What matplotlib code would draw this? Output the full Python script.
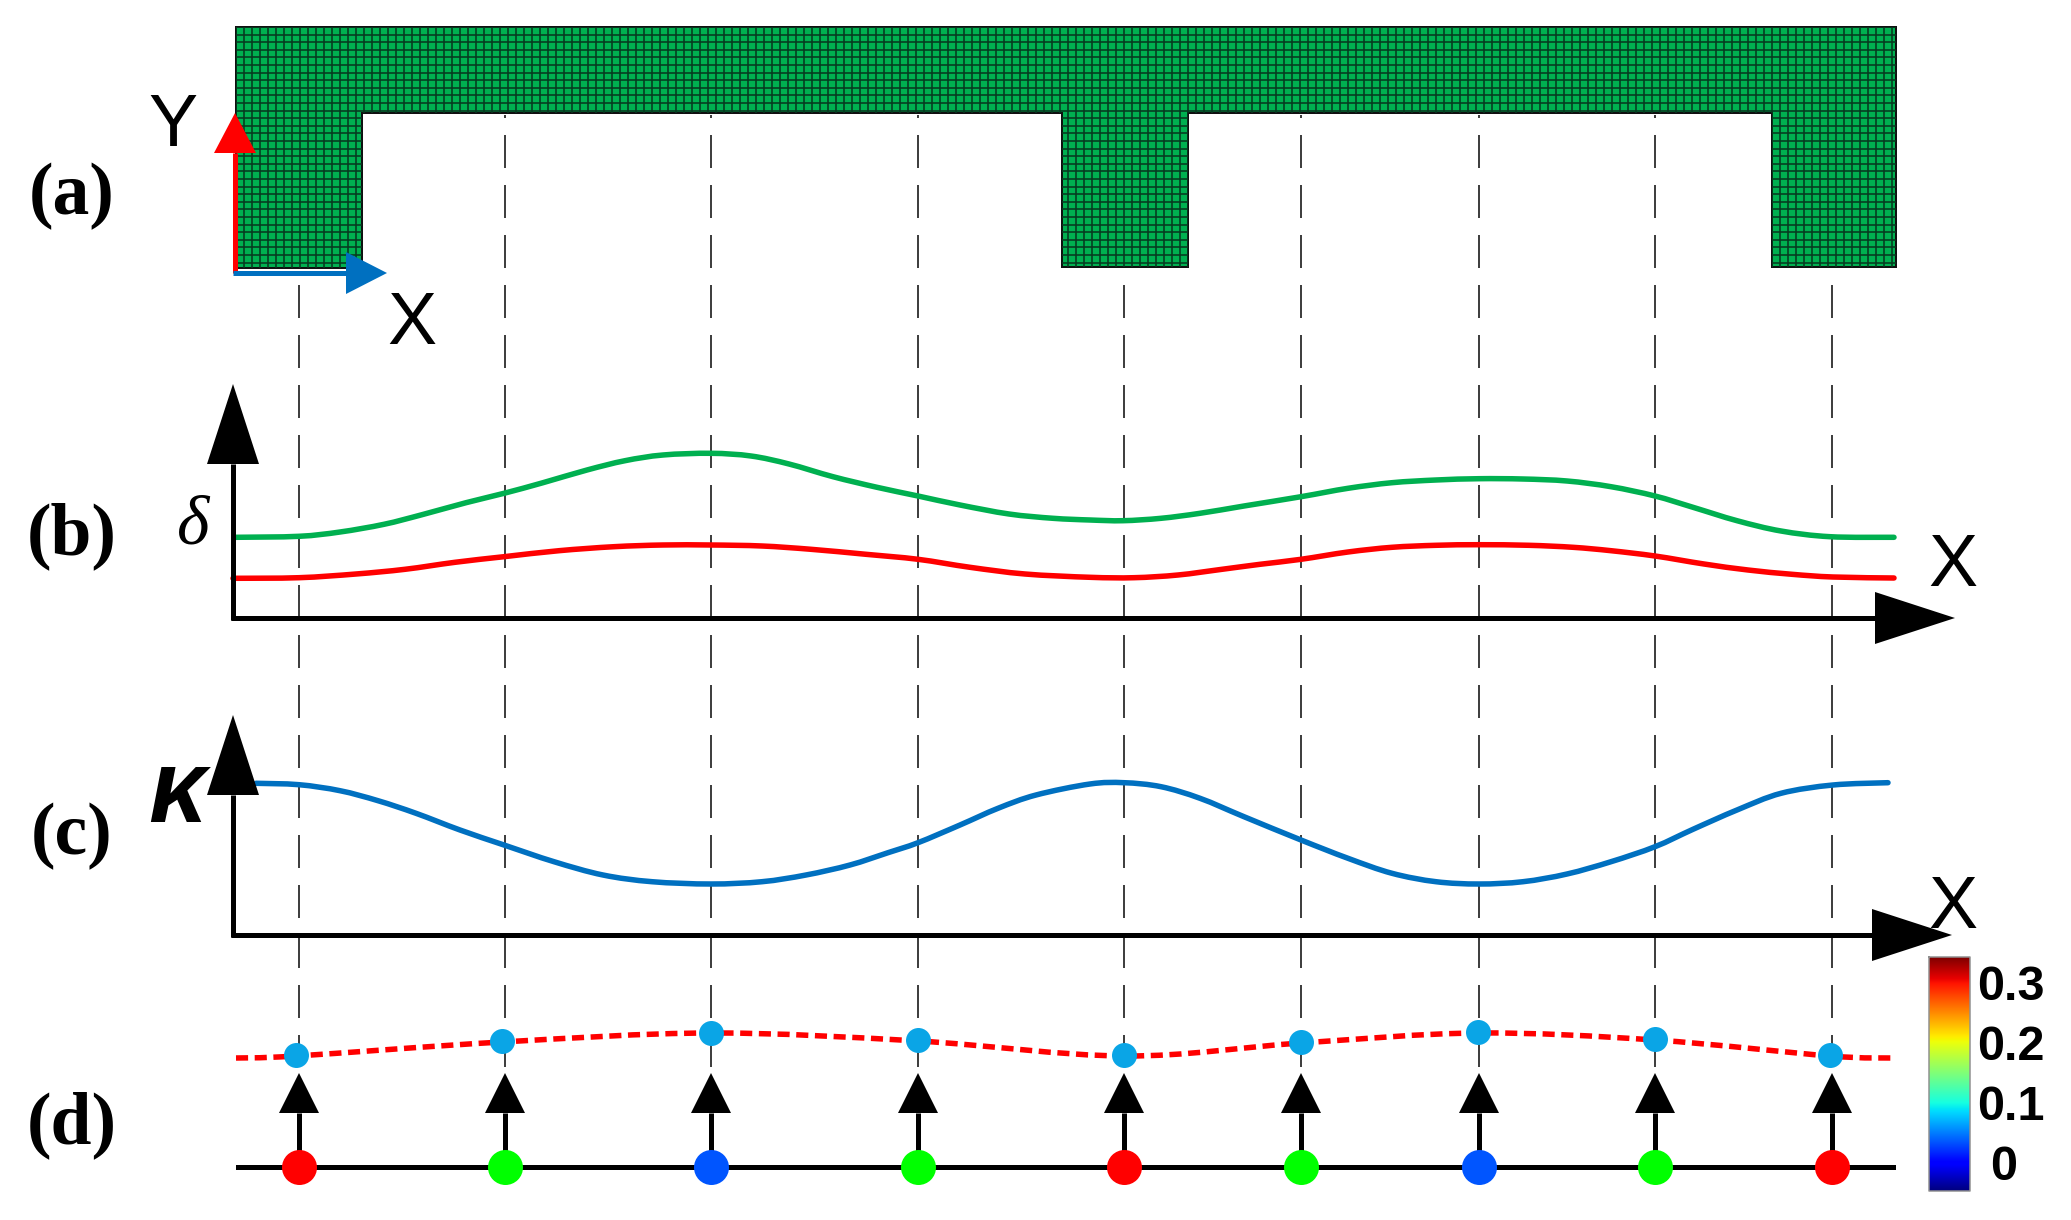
import numpy as np
import matplotlib
matplotlib.use('Agg')
import matplotlib.pyplot as plt
from matplotlib.patches import Polygon, PathPatch
from matplotlib.path import Path

W, H = 2071, 1220
PX = 0.72  # one pixel in points at dpi 100

# (a) mesh outline
mesh_x = [236, 1896, 1896, 1772, 1772, 1188, 1188, 1062, 1062, 362, 362, 236]
mesh_y = [27, 27, 267, 267, 113, 113, 267, 267, 113, 113, 268, 268]

# dashed guides and stations along the beam
station_x = [299, 505, 711, 918, 1124, 1301, 1479, 1655, 1832]
dash_top = [285, 115, 115, 115, 272, 115, 115, 115, 272]
dash_bottom = [1067, 1067, 1067, 1067, 1067, 1067, 1067, 1067, 1067]

# (b) deflection curves
green_x = [236, 299, 340, 384, 422, 466, 504, 543, 587, 625, 663, 711, 751, 789, 833, 877, 918,
           960, 1009, 1053, 1090, 1123, 1161, 1200, 1244, 1301, 1348, 1392, 1436, 1479, 1523,
           1567, 1611, 1655, 1693, 1737, 1781, 1830, 1894]
green_y = [537.3, 536.3, 532, 524.3, 514.7, 502.7, 493.3, 482.7, 470, 460.7, 455, 453.3, 456,
           464, 476.7, 487.3, 496, 505, 514, 518.3, 520, 520.7, 518.3, 513.3, 506, 496.7, 488.3,
           482.7, 480, 478.7, 479, 481, 486.7, 496, 507.3, 520.7, 531, 536.7, 537.3]
red_x = [233, 299, 356, 405, 455, 504, 559, 614, 663, 711, 762, 811, 866, 918, 970, 1025, 1090,
         1134, 1178, 1222, 1260, 1301, 1348, 1392, 1436, 1479, 1529, 1573, 1611, 1655, 1704,
         1748, 1792, 1833, 1894]
red_y = [578.3, 577.7, 574, 569.3, 562.3, 556.7, 550.7, 546.7, 545, 545, 546, 549.3, 554.3,
         559.3, 567.3, 574, 577.3, 577.7, 575, 569.3, 564.3, 559.3, 552, 547.3, 545.3, 544.7,
         545.3, 547.3, 550.7, 556, 564, 570, 574.3, 577, 578]

# (c) curvature curve
kappa_x = [256, 299, 340, 378, 416, 460, 504, 554, 603, 652, 711, 762, 806, 850, 888, 918, 960,
           998, 1036, 1090, 1124, 1161, 1200, 1244, 1301, 1348, 1392, 1436, 1479, 1523, 1567,
           1611, 1655, 1693, 1737, 1781, 1833, 1888]
kappa_y = [783.3, 784.7, 790.7, 800.7, 813.3, 830, 845, 861.7, 875, 881.7, 884, 881.7, 875, 865,
           852.7, 842.7, 825, 808.3, 795, 784, 782.7, 786.7, 798.3, 816.7, 840, 858.3, 873.3,
           881.7, 884, 881.7, 874, 861.7, 846.7, 829.3, 810, 793.3, 785, 782.7]

# (d) reconstructed shape and strain dots
dotted_x = [236, 296, 502, 711, 918, 1124, 1301, 1478, 1655, 1830, 1892]
dotted_y = [1058, 1056, 1042, 1033, 1041, 1056, 1043, 1033, 1040, 1056, 1058]
node_x = [296, 502, 711, 918, 1124, 1301, 1478, 1655, 1830]
node_y = [1055, 1041, 1033, 1040, 1055, 1042, 1032, 1039, 1055]
node_color = '#0aa5e6'
base_colors = ['#ff0000', '#00ff00', '#0055ff', '#00ff00', '#ff0000', '#00ff00', '#0055ff',
               '#00ff00', '#ff0000']
cbar_ticks = ['0.3', '0.2', '0.1', '0']
cbar_tick_y = [987, 1048, 1108, 1168]

fig = plt.figure(figsize=(W / 100, H / 100), dpi=100)
ax = fig.add_axes([0, 0, 1, 1])


def arrow(x0, y0, x1, y1, color='black', half=26, length=80, lw=5):
    # straight shaft with a filled triangle head, sizes in pixels
    d = np.array([x1 - x0, y1 - y0], dtype=float)
    d /= np.hypot(*d)
    n = np.array([-d[1], d[0]])
    tip = np.array([x1, y1], dtype=float)
    base = tip - d * length
    ax.plot([x0, base[0]], [y0, base[1]], color=color, lw=lw * PX, solid_capstyle='butt', zorder=6)
    ax.add_patch(Polygon([tip, base + n * half, base - n * half], closed=True, fc=color, ec='none', zorder=6))


def smooth(xs, ys, **kw):
    # bezier segments through the read points, so the line has no corners
    p = np.column_stack([xs, ys]).astype(float)
    verts, codes = [p[0]], [Path.MOVETO]
    for i in range(len(p) - 1):
        a = p[max(i - 1, 0)]
        b = p[min(i + 2, len(p) - 1)]
        verts += [p[i] + (p[i + 1] - a) / 6, p[i + 1] - (b - p[i]) / 6, p[i + 1]]
        codes += [Path.CURVE4] * 3
    ax.add_patch(PathPatch(Path(verts, codes), fc='none', **kw))


# (a) meshed beam
outline = Polygon(np.column_stack([mesh_x, mesh_y]), closed=True, fc='#00b050', ec='#101010',
                  lw=2 * PX, zorder=1)
ax.add_patch(outline)
for gx in np.arange(236, 1899, 8.0):
    ln, = ax.plot([gx, gx], [27, 268], color='#073a20', lw=1.6 * PX, zorder=2)
    ln.set_clip_path(outline)
for gy in np.arange(27, 268, 7.6):
    ln, = ax.plot([236, 1899], [gy, gy], color='#073a20', lw=1.6 * PX, zorder=2)
    ln.set_clip_path(outline)
arrow(235, 273, 235, 113, color='#ff0000', half=21, length=40)
arrow(233, 273, 387, 273, color='#0070c0', half=21, length=41)

# dashed guides, all on the same 50 px rhythm
for x, y0, y1 in zip(station_x, dash_top, dash_bottom):
    phase = ((y0 - 135) % 50) / 1.7
    ax.plot([x, x], [y0, y1], color='#202020', lw=1.7 * PX,
            linestyle=(phase, (33 / 1.7, 17 / 1.7)), dash_capstyle='butt', zorder=3)

# (b)
arrow(233, 620, 233, 384)
arrow(230.5, 618, 1955, 618)
smooth(green_x, green_y, ec='#00b050', lw=5.5 * PX, zorder=4, capstyle='round')
smooth(red_x, red_y, ec='#ff0000', lw=5.5 * PX, zorder=4, capstyle='round')

# (c)
smooth(kappa_x, kappa_y, ec='#0070c0', lw=5.5 * PX, zorder=4, capstyle='round')
arrow(233, 937, 233, 715)
arrow(230.5, 935, 1952, 935)

# (d)
ax.plot([238, 1893], [1167, 1167], color='black', lw=5 * PX, zorder=4)
smooth(dotted_x, dotted_y, ec='#ff0000', lw=5.5 * PX, linestyle=(0, (2.2, 1.2)), zorder=4)
for x, xn, y, c in zip(station_x, node_x, node_y, base_colors):
    arrow(x, 1167, x, 1073, half=20, length=40)
    ax.scatter([x], [1167], s=(35 * PX) ** 2, color=c, linewidths=0, zorder=7)
    ax.scatter([xn], [y], s=(25 * PX) ** 2, color=node_color, linewidths=0, zorder=7)

# colour bar, 0.3 at the top
grad = np.linspace(0.3, 0, 256).reshape(-1, 1)
ax.imshow(grad, cmap='jet', origin='upper', extent=(1929, 1970, 1191, 957), aspect='auto', zorder=5)
ax.plot([1929, 1970, 1970, 1929, 1929], [957, 957, 1191, 1191, 957], color='#909090', lw=1.5 * PX, zorder=6)
for lab, y in zip(cbar_ticks, cbar_tick_y):
    x = 2011 if lab != '0' else 2004
    ax.text(x, y, lab, family='Liberation Sans', weight='bold', fontsize=35, ha='center', va='center')

# labels
serif = dict(family='Liberation Serif', weight='bold', fontsize=53, ha='center', va='center')
ax.text(72, 196, '(a)', **serif)
ax.text(72, 536, '(b)', **serif)
ax.text(72, 836, '(c)', **serif)
ax.text(72, 1125, '(d)', **serif)
sans = dict(family='Liberation Sans', fontsize=53, ha='center', va='center')
ax.text(173, 126, 'Y', **sans)
ax.text(412, 325, 'X', **sans)
ax.text(1953, 567, 'X', **sans)
ax.text(1953, 909, 'X', **sans)
ax.text(193, 527, 'δ', family='Liberation Serif', style='italic', fontsize=50, ha='center', va='center')
ax.text(177, 795, 'κ', family='Liberation Sans', weight='bold', style='italic', fontsize=74,
        ha='center', va='center')

ax.set_xlim(0, W)
ax.set_ylim(H, 0)
ax.axis('off')
fig.savefig('out.png', dpi=100, facecolor='white')
